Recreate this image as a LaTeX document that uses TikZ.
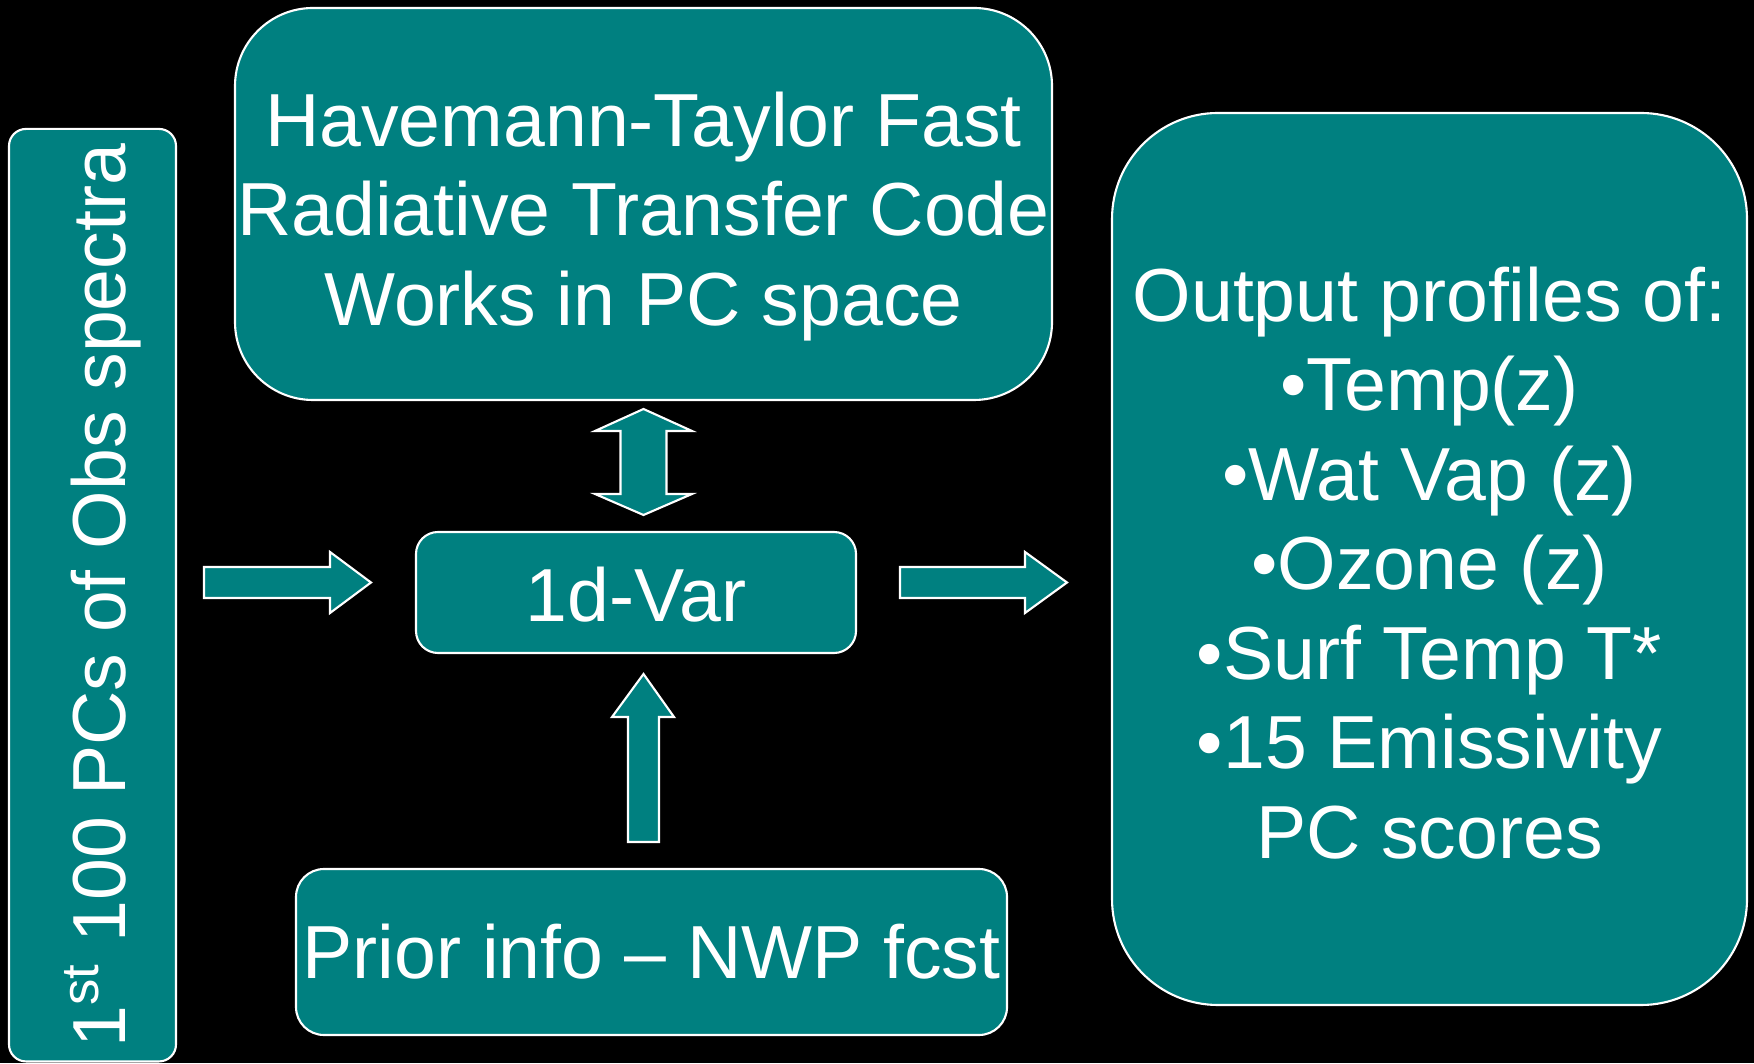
\documentclass[tikz,border=0pt]{standalone}
\usepackage{fontspec}
\setmainfont{Liberation Sans}
\definecolor{boxteal}{RGB}{0,128,128}
\tikzset{
  box/.style={draw=white, fill=boxteal, line width=0.6pt, inner sep=0pt, text=white, align=center},
  blockarrow/.style={draw=white, fill=boxteal, line width=0.6pt, line join=miter},
}
\begin{document}
\begin{tikzpicture}[x=1mm, y=1mm, font=\fontsize{21.4pt}{25.47pt}\selectfont]
\useasboundingbox (0,0) rectangle (175.4,106.3);
\fill[black] (0,0) rectangle (175.4,106.3);
% boxes
\node[box, rounded corners=1.7mm, minimum width=16.7mm, minimum height=93.25mm] (obs) at (9.25,46.78) {};
\node[rotate=90, anchor=base, text=white, inner sep=0pt] (obstext) at (12.5,46.73) {1\textsuperscript{st} 100 PCs of Obs spectra};
\node[box, rounded corners=7.8mm, minimum width=81.7mm, minimum height=39.2mm] (ht) at (64.35,85.9)
  {\rule{0pt}{6.4mm}Havemann-Taylor Fast\\Radiative Transfer Code\\\smash{Works in PC space}};
\node[box, rounded corners=2.2mm, minimum width=44mm, minimum height=12.1mm] (var) at (63.6,47.05) {\rule{0pt}{5.8mm}1d-Var};
\node[box, rounded corners=2.8mm, minimum width=71.1mm, minimum height=16.6mm] (prior) at (65.15,11.1) {Prior info \textendash{} NWP fcst};
\node[box, rounded corners=10.6mm, minimum width=63.5mm, minimum height=89.2mm] (out) at (142.95,50.4)
  {\rule{0pt}{6.2mm}Output profiles of:\\•Temp(z)\\•Wat Vap (z)\\•Ozone (z)\\•Surf Temp T*\\•15 Emissivity\\PC scores};
% block arrows
\draw[blockarrow] (20.4,46.5) -- (33.0,46.5) -- (33.0,45.0) -- (37.1,48.05) -- (33.0,51.1) -- (33.0,49.6) -- (20.4,49.6) -- cycle;
\draw[blockarrow] (90.0,46.5) -- (102.5,46.5) -- (102.5,45.0) -- (106.7,48.05) -- (102.5,51.1) -- (102.5,49.6) -- (90.0,49.6) -- cycle;
\draw[blockarrow] (64.35,65.4) -- (69.2,63.2) -- (66.65,63.2) -- (66.65,56.9) -- (69.2,56.9) -- (64.35,54.8)
  -- (59.5,56.9) -- (62.05,56.9) -- (62.05,63.2) -- (59.5,63.2) -- cycle;
\draw[blockarrow] (62.8,22.1) -- (65.9,22.1) -- (65.9,34.6) -- (67.4,34.6) -- (64.35,38.9) -- (61.2,34.6) -- (62.8,34.6) -- cycle;
\end{tikzpicture}
\end{document}
